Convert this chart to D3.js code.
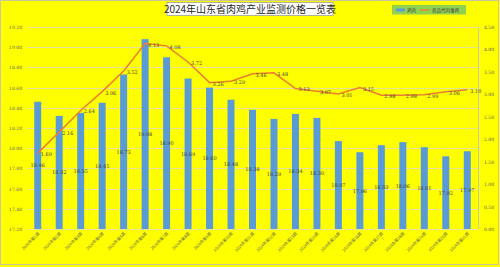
<!DOCTYPE html>
<html>
<head>
<meta charset="utf-8">
<script src="https://cdn.jsdelivr.net/npm/d3@7"></script>
<style>
  body { margin: 0; background: #ffff00; }
  svg { display: block; }
</style>
</head>
<body>
<script>
// weeks of 2024
var weeks = ["2024年第1周", "2024年第2周", "2024年第3周", "2024年第4周", "2024年第5周",
    "2024年第6周", "2024年第7周", "2024年第8周", "2024年第9周", "2024年第10周",
    "2024年第11周", "2024年第12周", "2024年第13周", "2024年第14周", "2024年第15周",
    "2024年第16周", "2024年第17周", "2024年第18周", "2024年第19周", "2024年第20周",
    "2024年第21周"];

// 鸡肉 (left axis)
var chickenMeat = [18.46, 18.32, 18.35, 18.45, 18.73, 19.08, 18.90, 18.69, 18.60, 18.48,
    18.38, 18.29, 18.34, 18.30, 18.07, 17.96, 18.03, 18.06, 18.01, 17.92, 17.97];

// 商品代肉雏鸡 (right axis)
var chicks = [1.69, 2.16, 2.64, 3.06, 3.52, 4.13, 4.08, 3.72, 3.26, 3.29,
    3.46, 3.48, 3.13, 3.07, 3.01, 3.15, 2.98, 2.98, 2.99, 3.06, 3.10];

var leftTicks = [17.2, 17.4, 17.6, 17.8, 18.0, 18.2, 18.4, 18.6, 18.8, 19.0, 19.2];
var rightTicks = [0, 0.5, 1, 1.5, 2, 2.5, 3, 3.5, 4, 4.5];
var seriesNames = ["鸡肉", "商品代肉雏鸡"];

var width = 500, height = 267;
var plot = {left: 27, right: 478, top: 27, bottom: 229};

var svg = d3.select("body").append("svg")
    .attr("width", width)
    .attr("height", height);

svg.append("rect") //background + outer border
    .attr("x", 0.5).attr("y", 0.5)
    .attr("width", width - 2).attr("height", height - 3)
    .style("fill", "#ffff00")
    .style("stroke", "#c8c8a0");

var x = d3.scaleBand()
    .domain(weeks)
    .range([plot.left, plot.right]);

var yL = d3.scaleLinear()
    .domain([17.2, 19.2])
    .range([plot.bottom, plot.top]);

var yR = d3.scaleLinear()
    .domain([0, 4.5])
    .range([plot.bottom, plot.top]);

//gridlines
svg.append("g")
    .selectAll("line")
    .data(leftTicks)
    .enter()
    .append("line")
    .attr("x1", plot.left)
    .attr("x2", plot.right)
    .attr("y1", function(d) { return Math.round(yL(d)) + 0.5; })
    .attr("y2", function(d) { return Math.round(yL(d)) + 0.5; })
    .style("stroke", "#dcdcc0")
    .style("stroke-width", 0.8);

//right border of plot
svg.append("line")
    .attr("x1", plot.right + 0.5).attr("x2", plot.right + 0.5)
    .attr("y1", plot.top).attr("y2", plot.bottom)
    .style("stroke", "#c8c8b0");

//left axis
var leftAxis = svg.append("g")
    .attr("transform", "translate(" + plot.left + ",0)")
    .call(d3.axisLeft(yL).tickValues(leftTicks).tickSize(0).tickPadding(5).tickFormat(d3.format(".2f")));
leftAxis.select(".domain").remove();

//right axis
var rightAxis = svg.append("g")
    .attr("transform", "translate(" + plot.right + ",0)")
    .call(d3.axisRight(yR).tickValues(rightTicks).tickSize(0).tickPadding(6).tickFormat(d3.format(".2f")));
rightAxis.select(".domain").remove();

svg.selectAll(".tick text")
    .style("font-family", "'DejaVu Serif', serif")
    .style("font-size", "4.5px")
    .style("fill", "#595959");

//bars
var barW = 7;
svg.selectAll(".bar")
    .data(chickenMeat)
    .enter()
    .append("rect")
    .attr("class", "bar")
    .attr("x", function(d, i) { return x(weeks[i]) + x.bandwidth() / 2 - barW / 2; })
    .attr("y", function(d) { return yL(d); })
    .attr("width", barW)
    .attr("height", function(d) { return plot.bottom - yL(d); })
    .style("fill", "#5b9bd5");

//bar labels, centred in the bar
svg.selectAll(".barLabel")
    .data(chickenMeat)
    .enter()
    .append("text")
    .attr("class", "barLabel")
    .attr("text-anchor", "middle")
    .attr("x", function(d, i) { return x(weeks[i]) + x.bandwidth() / 2; })
    .attr("y", function(d) { return (yL(d) + plot.bottom) / 2 + 2; })
    .style("font-family", "'DejaVu Serif', serif")
    .style("font-size", "5px")
    .style("fill", "#404040")
    .text(function(d) { return d.toFixed(2); });

//line
var line = d3.line()
    .x(function(d, i) { return x(weeks[i]) + x.bandwidth() / 2; })
    .y(function(d) { return yR(d); });

svg.append("path")
    .datum(chicks)
    .attr("d", line)
    .style("fill", "none")
    .style("stroke", "#ed7d31")
    .style("stroke-width", 1.5);

svg.selectAll(".lineLabel")
    .data(chicks)
    .enter()
    .append("text")
    .attr("class", "lineLabel")
    .attr("x", function(d, i) { return x(weeks[i]) + x.bandwidth() / 2 + 3; })
    .attr("y", function(d) { return yR(d) + 3; })
    .style("font-family", "'DejaVu Serif', serif")
    .style("font-size", "5px")
    .style("fill", "#404040")
    .text(function(d) { return d.toFixed(2); });

//x labels, rotated
svg.selectAll(".xLabel")
    .data(weeks)
    .enter()
    .append("text")
    .attr("class", "xLabel")
    .attr("text-anchor", "end")
    .attr("transform", function(d) {
        return "translate(" + (x(d) + x.bandwidth() / 2 + 2) + "," + (plot.bottom + 5) + ") rotate(-45)";
    })
    .style("font-family", "'Noto Sans CJK SC', sans-serif")
    .style("font-size", "4px")
    .style("fill", "#595959")
    .text(function(d) { return d; });

//title box
var title = svg.append("g").attr("transform", "translate(250,9)");
title.append("rect")
    .attr("x", -83).attr("y", -6.5)
    .attr("width", 166).attr("height", 13)
    .style("fill", "#ffffff")
    .style("stroke", "#a0a0a0")
    .style("stroke-width", 0.8);
title.append("text")
    .attr("text-anchor", "middle")
    .attr("y", 3.5)
    .style("font-family", "'Noto Sans CJK SC', sans-serif")
    .style("font-size", "10px")
    .style("fill", "#262626")
    .text("2024年山东省肉鸡产业监测价格一览表");

//legend
var legend = svg.append("g").attr("transform", "translate(392,5)");
legend.append("rect")
    .attr("width", 74).attr("height", 9.5)
    .style("fill", "#92d050");
legend.append("rect")
    .attr("x", 4).attr("y", 3.5)
    .attr("width", 9).attr("height", 3)
    .style("fill", "#5b9bd5");
legend.append("text")
    .attr("x", 15).attr("y", 6.8)
    .style("font-family", "'Noto Sans CJK SC', sans-serif")
    .style("font-size", "4.5px")
    .style("fill", "#404040")
    .text(seriesNames[0]);
legend.append("line")
    .attr("x1", 28).attr("x2", 38)
    .attr("y1", 5).attr("y2", 5)
    .style("stroke", "#ed7d31")
    .style("stroke-width", 1.2);
legend.append("text")
    .attr("x", 40).attr("y", 6.8)
    .style("font-family", "'Noto Sans CJK SC', sans-serif")
    .style("font-size", "4.5px")
    .style("fill", "#404040")
    .text(seriesNames[1]);
</script>
</body>
</html>
